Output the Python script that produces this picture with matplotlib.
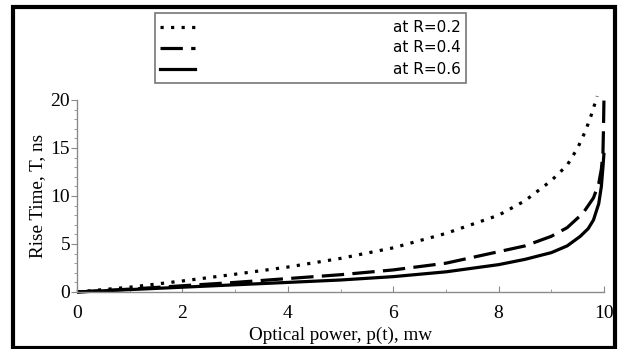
"""Rise time vs optical power for three R values."""

import matplotlib
matplotlib.use("Agg")
import matplotlib.pyplot as plt
from matplotlib.lines import Line2D
from matplotlib.patches import Rectangle
from matplotlib.ticker import MultipleLocator

# ---------------------------------------------------------------------------
# Data
# ---------------------------------------------------------------------------
p_r02 = [0, 1, 2, 3, 4, 5, 6, 7, 8, 8.5, 9, 9.3, 9.5, 9.65, 9.75, 9.82, 9.87]
t_r02 = [0, 0.5, 1.15, 1.85, 2.6, 3.5, 4.6, 6.1, 8.0, 9.5, 11.6, 13.2, 15.0,
         16.8, 18.3, 19.5, 20.4]

p_r04 = [0, 1, 2, 3, 4, 5, 6, 7, 8, 8.5, 9, 9.3, 9.6, 9.8, 9.9, 9.95, 9.98,
         9.99, 10.0]
t_r04 = [0, 0.3, 0.65, 1.0, 1.4, 1.8, 2.3, 3.0, 4.2, 4.8, 5.8, 6.7, 8.2, 9.8,
         11.3, 12.8, 14.5, 17.0, 20.3]

p_r06 = [0, 1, 2, 3, 4, 5, 6, 7, 8, 8.5, 9, 9.3, 9.55, 9.7, 9.8, 9.9, 9.95,
         9.98, 10.0]
t_r06 = [0, 0.25, 0.5, 0.75, 1.0, 1.25, 1.6, 2.1, 2.85, 3.4, 4.1, 4.8, 5.8,
         6.6, 7.5, 9.2, 11.0, 13.0, 14.5]

labels = ["at R=0.2", "at R=0.4", "at R=0.6"]

STYLES = [(0, (1, 2.3)), (0, (7, 2.6)), "-"]
AXIS_GREY = "#8a8a8a"
SERIF = "Liberation Serif"
FS = 14

W, H = 622, 349
fig = plt.figure(figsize=(W / 100, H / 100), dpi=100)
fig.patch.set_facecolor("white")

ax = fig.add_axes([77 / W, 1 - 292 / H, (604 - 77) / W, (292 - 100) / H])

series = [(p_r02, t_r02), (p_r04, t_r04), (p_r06, t_r06)]
for (p, t), ls in zip(series, STYLES):
    ax.plot(p, t, color="black", lw=2.3, ls=ls, clip_on=False,
            solid_capstyle="butt", dash_capstyle="butt")

ax.set_xlim(0, 10)
ax.set_ylim(0, 20)
ax.xaxis.set_major_locator(MultipleLocator(2))
ax.xaxis.set_minor_locator(MultipleLocator(1))
ax.yaxis.set_major_locator(MultipleLocator(5))
ax.yaxis.set_minor_locator(MultipleLocator(1))

for side in ("top", "right"):
    ax.spines[side].set_visible(False)
for side in ("left", "bottom"):
    ax.spines[side].set_color(AXIS_GREY)
    ax.spines[side].set_linewidth(1.0)

ax.tick_params(axis="x", which="major", direction="in", length=4,
               color=AXIS_GREY, pad=9)
ax.tick_params(axis="x", which="minor", direction="in", length=2.5,
               color=AXIS_GREY)
ax.tick_params(axis="y", which="major", direction="out", length=4,
               color=AXIS_GREY, pad=1)
ax.tick_params(axis="y", which="minor", direction="out", length=2,
               color=AXIS_GREY)
for lab in ax.get_xticklabels() + ax.get_yticklabels():
    lab.set_fontfamily(SERIF)
    lab.set_fontsize(FS)

ax.set_xlabel("Optical power, p(t), mw", fontfamily=SERIF, fontsize=13.8,
              labelpad=4)
ax.set_ylabel("Rise Time, T, ns", fontfamily=SERIF, fontsize=13.8,
              labelpad=3)

# legend box, drawn by hand (labels are right aligned)
box_l, box_r, box_t, box_b = 155, 466, 13, 83
fig.patches.append(Rectangle((box_l / W, 1 - box_b / H),
                             (box_r - box_l) / W, (box_b - box_t) / H,
                             transform=fig.transFigure, fill=False,
                             edgecolor="#777777", lw=1.2))
rows_y = [27, 48, 69]
for yy, ls, lab in zip(rows_y, STYLES, labels):
    fy = 1 - yy / H
    fig.lines.append(Line2D([160 / W, 195 / W], [fy, fy],
                            transform=fig.transFigure, color="black",
                            lw=2.3, ls=ls, dash_capstyle="butt"))
    fig.text(461 / W, fy, lab, ha="right", va="center",
             fontfamily="DejaVu Sans", fontsize=11)

# thick outer frame
fig.patches.append(Rectangle((13 / W, 1 - 348 / H), (615 - 13) / W,
                             (348 - 7) / H, transform=fig.transFigure,
                             fill=False, edgecolor="black", lw=3.0))

fig.savefig("out.png", dpi=100)
plt.close(fig)
